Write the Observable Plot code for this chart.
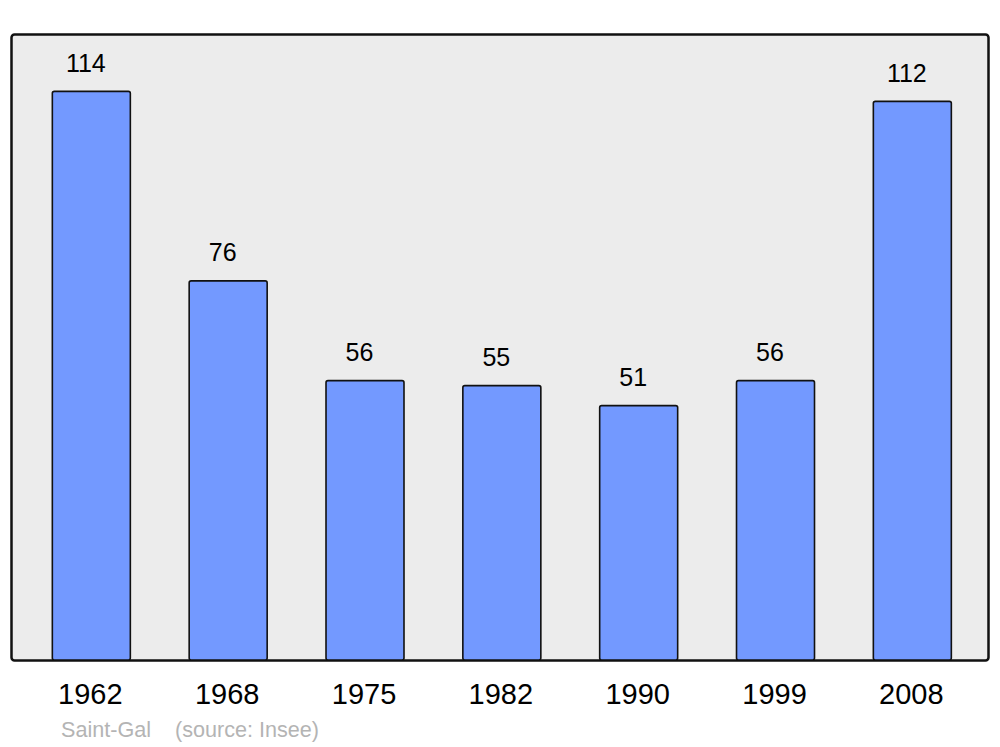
<!DOCTYPE html>
<html>
<head>
<meta charset="utf-8">
<script src="https://cdn.jsdelivr.net/npm/d3@7"></script>
<script src="https://cdn.jsdelivr.net/npm/@observablehq/plot@0.6"></script>
<style>
  html, body { margin: 0; padding: 0; background: #ffffff; }
  #chart { width: 1000px; }
  #caption { font-family: "Liberation Sans", Arial, sans-serif; font-size: 21.6px; color: #b4b4b4; padding-left: 61px; margin-top: 5px; white-space: pre; }
</style>
</head>
<body>
<div id="chart"></div>
<div id="caption">Saint-Gal    (source: Insee)</div>
<script>
const years = ["1962", "1968", "1975", "1982", "1990", "1999", "2008"];
const population = [114, 76, 56, 55, 51, 56, 112];

const data = years.map((y, i) => ({year: y, value: population[i]}));

const chart = Plot.plot({
  width: 1000,
  height: 712,
  marginTop: 34,
  marginBottom: 52,
  marginLeft: 11,
  marginRight: 12,
  style: {fontFamily: "'Liberation Sans', Arial, sans-serif", background: "#ffffff", overflow: "visible"},
  x: {domain: years, paddingInner: 0.43, paddingOuter: 0.285, align: 0.53, round: false, label: null},
  y: {domain: [0, 125.5], axis: null},
  marks: [
    Plot.frame({fill: "#ececec", stroke: "#111111", strokeWidth: 2.5, rx: 3}),
    Plot.barY(data, {x: "year", y: "value", fill: "#7399ff", stroke: "#111111", strokeWidth: 1.6, rx: 2}),
    Plot.text(data, {x: "year", y: "value", text: d => String(d.value), dy: -28, dx: -6, fontSize: 25, fill: "#000000"}),
    Plot.axisX({tickSize: 0, tickPadding: 23, dx: -1.5, fontSize: 29, color: "#000000", label: null})
  ]
});
document.getElementById("chart").appendChild(chart);
</script>
</body>
</html>
